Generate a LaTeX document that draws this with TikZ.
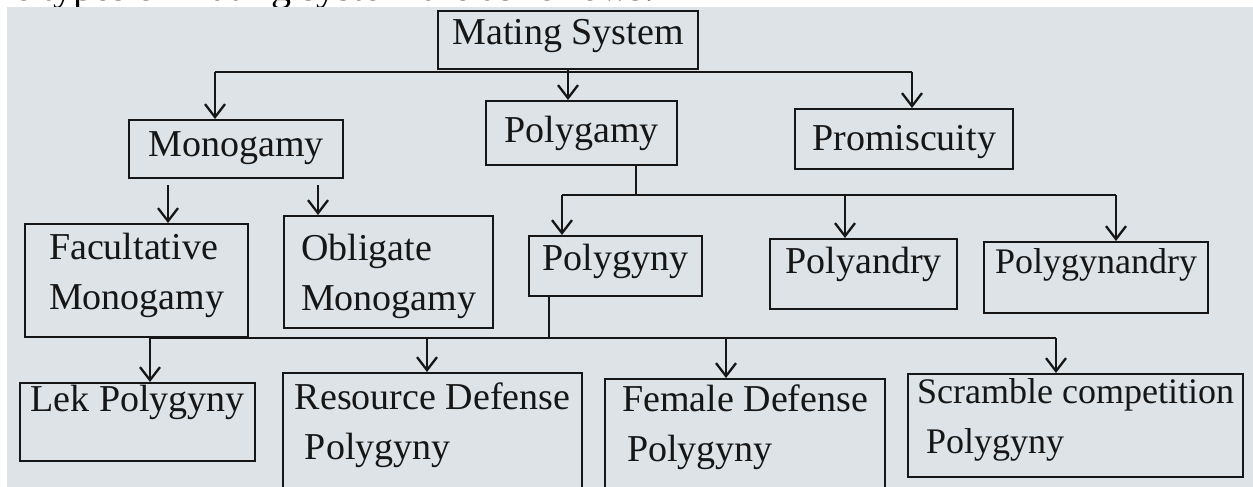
\documentclass[tikz,border=0pt]{standalone}
\usepackage{fontspec}
\setmainfont{Liberation Serif}
\usetikzlibrary{arrows.meta}
\definecolor{ink}{HTML}{161616}
\definecolor{photo}{HTML}{DDE3E6}
\newcommand\fsbig{\fontsize{38}{50}\selectfont}
\newcommand\fssmall{\fontsize{36}{50}\selectfont}
\tikzset{
  box/.style={draw=ink, line width=2.3pt, inner xsep=0pt, inner ysep=0pt,
    anchor=north west, font=\fsbig, text=ink},
  tight/.style={font=\fssmall},
  conn/.style={draw=ink, line width=2.3pt},
  arr/.style={conn, -{Straight Barb[length=13pt,width=20pt,line width=2.3pt]}},
}
\begin{document}
\begin{tikzpicture}[x=1pt,y=-1pt]
\useasboundingbox (0,0) rectangle (1253,487);
% cut-off heading line above the photo
\node[anchor=base west, inner sep=0pt, font=\fontsize{40}{48}\selectfont, text=black]
  (heading) at (-30,1) {The types of mating system are as follows.};
\fill[photo] (7,7) rectangle (1253,487);

% level 0
\node[box, minimum width=260pt, text height=33pt, text depth=25pt] (ms) at (437,10) {Mating System};
% level 1
\node[box, minimum width=214pt, text height=36pt, text depth=22pt] (mono) at (128,119) {Monogamy};
\node[box, minimum width=191pt, text height=41pt, text depth=23pt] (pgam) at (485,100) {Polygamy};
\node[box, minimum width=218pt, text height=41pt, text depth=19pt] (prom) at (794,108) {Promiscuity};
% level 2
\node[box, align=left, minimum width=223pt, text height=85pt, text depth=28pt] (fac) at (24,223) {Facultative\\Monogamy};
\node[box, align=left, minimum width=209pt, text height=94pt, text depth=18pt] (obl) at (283,215) {Obligate\\Monogamy};
\node[box, minimum width=173pt, text height=34pt, text depth=26pt] (pgyn) at (528,235) {Polygyny};
\node[box, minimum width=187pt, text height=34pt, text depth=36pt] (pand) at (769,238) {Polyandry};
\node[box, tight, minimum width=224pt, text height=31pt, text depth=40pt] (pgnd) at (983,241) {Polygynandry};
% level 3
\node[box, minimum width=235pt, text height=28pt, text depth=50pt] (lek) at (19,382) {Lek Polygyny};
\node[box, align=left, minimum width=299pt, text height=86pt, text depth=39pt] (res) at (282,372) {Resource Defense\\\hspace*{10pt}Polygyny};
\node[box, align=left, minimum width=280pt, text height=82pt, text depth=37pt] (fem) at (604,378) {Female Defense\\\hspace*{5pt}Polygyny};
\node[box, tight, align=left, minimum width=335pt, text height=79pt, text depth=24pt] (scr) at (907,373) {Scramble competition\\\hspace*{9pt}Polygyny};

% bus coordinates
\coordinate (b1) at (568,72);
\coordinate (b1l) at (215,72);
\coordinate (b1r) at (912,72);
\coordinate (fa) at (168,185);
\coordinate (ob) at (318,185);
\coordinate (b2) at (636,195);
\coordinate (b2l) at (562,195);
\coordinate (b2m) at (845,195);
\coordinate (b2r) at (1116,195);
\coordinate (b3) at (549,338);
\coordinate (b3a) at (150,338);
\coordinate (b3b) at (427,338);
\coordinate (b3c) at (726,338);
\coordinate (b3d) at (1056,338);

% connectors level 0 -> 1
\draw[arr] (b1 |- ms.south) -- (b1 |- pgam.north);
\draw[conn] (b1l) -- (b1r);
\draw[arr] (b1l) -- (b1l |- mono.north);
\draw[arr] (b1r) -- (b1r |- prom.north);
% monogamy -> children
\draw[arr] (fa) -- (fa |- fac.north);
\draw[arr] (ob) -- (ob |- obl.north);
% polygamy -> children
\draw[conn] (b2 |- pgam.south) -- (b2);
\draw[conn] (b2l) -- (b2r);
\draw[arr] (b2l) -- (b2l |- pgyn.north);
\draw[arr] (b2m) -- (b2m |- pand.north);
\draw[arr] (b2r) -- (b2r |- pgnd.north);
% polygyny -> children
\draw[conn] (b3 |- pgyn.south) -- (b3);
\draw[conn] (b3a) -- (b3d);
\draw[arr] (b3a) -- (b3a |- lek.north);
\draw[arr] (b3b) -- (b3b |- res.north);
\draw[arr] (b3c) -- (b3c |- fem.north);
\draw[arr] (b3d) -- (b3d |- scr.north);
\end{tikzpicture}
\end{document}
